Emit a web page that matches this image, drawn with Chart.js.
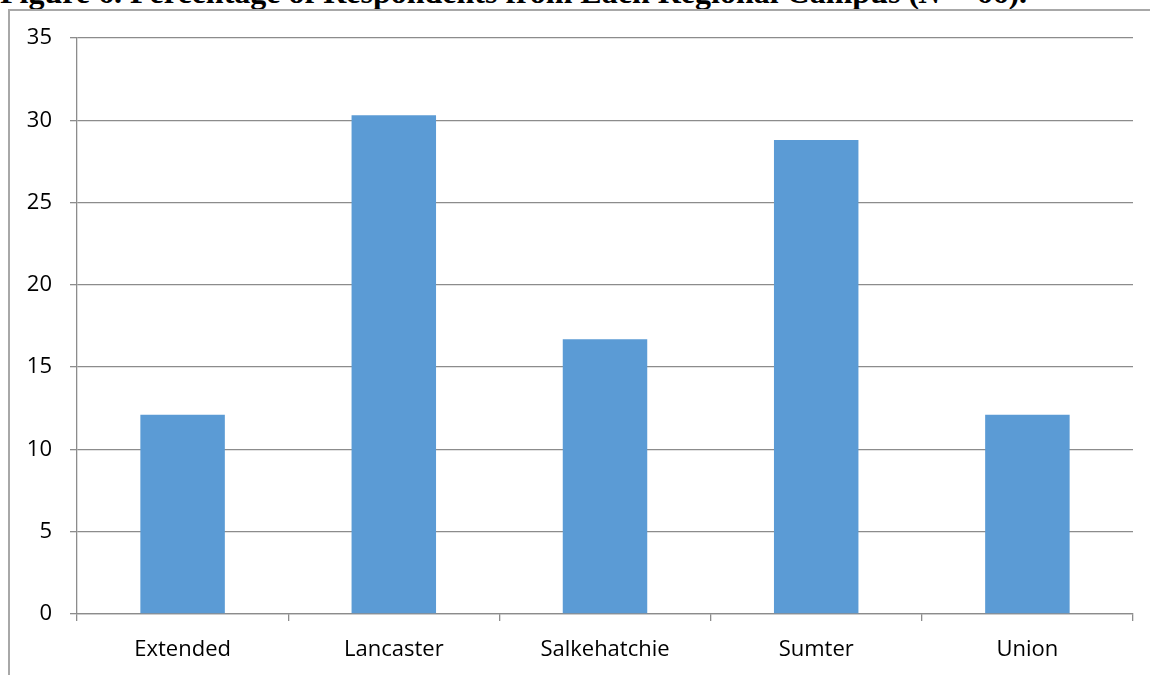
<!DOCTYPE html>
<html>
<head>
<meta charset="utf-8">
<script src="https://cdn.jsdelivr.net/npm/chart.js@4"></script>
<style>
  body { margin: 0; background: #fff; overflow: hidden; }
  #wrap { position: relative; width: 1150px; height: 675px; overflow: hidden; }
  #title {
    position: absolute; left: 0; top: -24px; white-space: nowrap; line-height: 32px;
    font-family: "Liberation Serif", serif; font-weight: bold; font-size: 32px; color: #000;
  }
  #frame {
    position: absolute; left: 8px; top: 9px; width: 1200px; height: 700px;
    border: 2px solid #a8a8a8; box-sizing: border-box;
  }
  canvas { position: absolute; left: 0; top: 0; }
</style>
</head>
<body>
<div id="wrap">
  <div id="title">Figure 6. Percentage of Respondents from Each Regional Campus (<i>N</i> = 66).</div>
  <div id="frame"></div>
  <canvas id="chart" width="1150" height="675"></canvas>
</div>
<script>
// Campus names and percentage of respondents
const campuses = ['Extended', 'Lancaster', 'Salkehatchie', 'Sumter', 'Union'];
const percents = [12.1, 30.3, 16.7, 28.8, 12.1];
const yTicks = [0, 5, 10, 15, 20, 25, 30, 35];

const gridColor = '#8c8c8c';

const ctx = document.getElementById('chart').getContext('2d');
new Chart(ctx, {
    type: 'bar',
    data: {
        labels: campuses,
        datasets: [{
            data: percents,
            backgroundColor: '#5b9bd5',
            borderWidth: 0,
            categoryPercentage: 1,
            barPercentage: 0.4
        }]
    },
    options: {
        responsive: false,
        animation: false,
        layout: { padding: { top: 38, right: 17, left: 0, bottom: 0 } },
        plugins: {
            legend: { display: false },
            tooltip: { enabled: false }
        },
        scales: {
            y: {
                min: 0,
                max: 35,
                afterFit: function(scale) { scale.width = 77; },
                afterBuildTicks: function(scale) {
                    scale.ticks = yTicks.map(v => ({ value: v }));
                },
                grid: { color: gridColor, lineWidth: 1.3, tickLength: 7 },
                border: { color: gridColor, width: 1.3 },
                ticks: {
                    color: '#000',
                    padding: 18,
                    font: { family: '"Open Sans", sans-serif', size: 22 }
                }
            },
            x: {
                afterFit: function(scale) { scale.height = 61; },
                grid: { drawOnChartArea: false, color: gridColor, lineWidth: 1.3, tickLength: 7 },
                border: { color: gridColor, width: 1.3 },
                ticks: {
                    color: '#000',
                    padding: 16,
                    font: { family: '"Open Sans", sans-serif', size: 22 }
                }
            }
        }
    }
});
</script>
</body>
</html>
